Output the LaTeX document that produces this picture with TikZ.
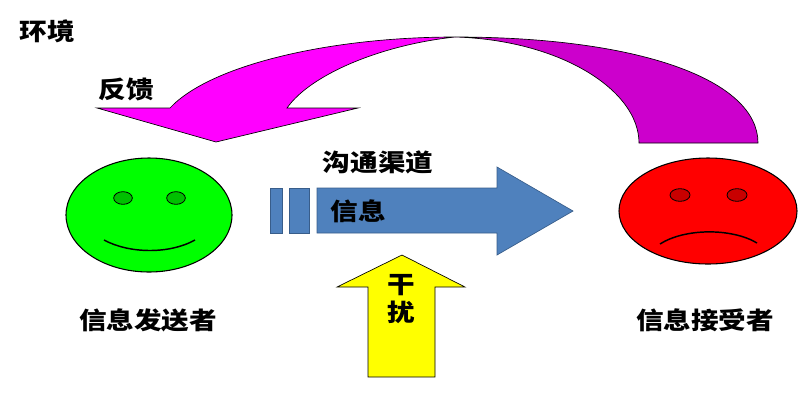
\documentclass[tikz,border=0pt]{standalone}
\usepackage{fontspec}
\newfontfamily\cjk{Noto Sans CJK SC}
\usetikzlibrary{shapes.geometric}
\definecolor{faceG}{HTML}{00FF00}
\definecolor{eyeG}{HTML}{00C000}
\definecolor{faceR}{HTML}{FF0000}
\definecolor{eyeR}{HTML}{C80000}
\definecolor{chanBlue}{HTML}{4F81BD}
\definecolor{chanLine}{HTML}{385D8A}
\definecolor{noiseY}{HTML}{FFFF00}
\definecolor{fbFront}{HTML}{FF00FF}
\definecolor{fbBack}{HTML}{CC00CC}
\tikzset{
  lbl/.style={font=\cjk\bfseries\fontsize{18}{21}\selectfont, xscale=1.15, transform shape, inner sep=0pt},
  face/.style={ellipse, draw=black, line width=0.8pt, inner sep=0pt},
  eye/.style={ellipse, draw=black, line width=0.6pt, minimum width=14pt, minimum height=9.5pt, inner sep=0pt},
  mouth/.style={line width=1.1pt},
  shapeline/.style={draw=black, line width=0.5pt},
}
\begin{document}
\begin{tikzpicture}[x=0.75pt,y=-0.75pt]
\useasboundingbox (0,0) rectangle (810,412);
% feedback arrow, back band
\path[fill=fbBack, shapeline] (455,37) .. controls (640,37) and (758,80) .. (758,143)
  -- (639,143) .. controls (639,90) and (560,40) .. (455,37) -- cycle;
% feedback arrow, front band with head
\path[fill=fbFront, shapeline] (455,37) .. controls (380,45) and (310,75) .. (287,108)
  -- (358,108) -- (216,142) -- (97,108) -- (170,108)
  .. controls (210,65) and (330,37) .. (455,37) -- cycle;
% faces
\node[face, fill=faceG, minimum width=124.5pt, minimum height=85.5pt] (sender) at (149,215) {};
\node[eye, fill=eyeG] (seyeL) at (123,198) {};
\node[eye, fill=eyeG] (seyeR) at (176,198) {};
\draw[mouth] (104,240) .. controls (130,254) and (170,254) .. (195,240);
\node[face, fill=faceR, minimum width=133.5pt, minimum height=79.5pt] (receiver) at (708,211) {};
\node[eye, fill=eyeR, minimum width=15pt] (reyeL) at (680,195) {};
\node[eye, fill=eyeR, minimum width=15pt] (reyeR) at (737,195) {};
\draw[mouth] (660,244) .. controls (685,228) and (732,228) .. (757,243);
% channel arrow
\path[fill=chanBlue, draw=chanLine, line width=0.5pt] (270,188) rectangle (282,233);
\path[fill=chanBlue, draw=chanLine, line width=0.5pt] (289,188) rectangle (309,233);
\path[fill=chanBlue, draw=chanLine, line width=0.5pt] (317,188) -- (497,188) -- (497,167)
  -- (573,211) -- (497,255) -- (497,233) -- (317,233) -- cycle;
% noise arrow
\path[fill=noiseY, shapeline] (368,377) -- (368,287) -- (337,287) -- (402,255)
  -- (465,287) -- (435,287) -- (435,377) -- cycle;
% labels
\node[lbl] (env) at (47,31) {环境};
\node[lbl] (fb) at (126,89) {反馈};
\node[lbl] (chan) at (378,162) {沟通渠道};
\node[lbl] (msg) at (358,211) {信息};
\node[lbl] (n1) at (401,285) {干};
\node[lbl] (n2) at (401,312) {扰};
\node[lbl] (slbl) at (148,320) {信息发送者};
\node[lbl] (rlbl) at (705,320) {信息接受者};
\end{tikzpicture}
\end{document}
